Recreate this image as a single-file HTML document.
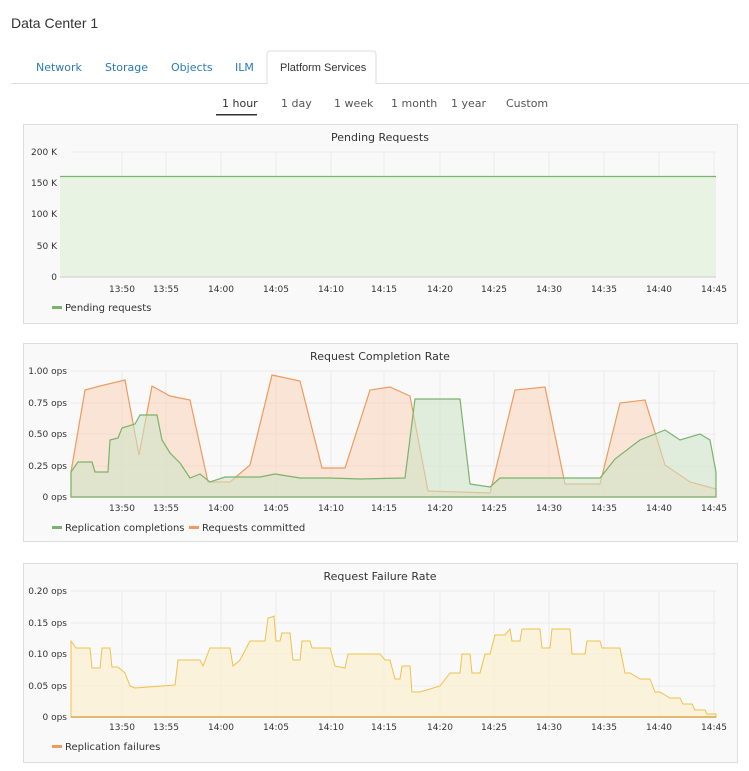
<!DOCTYPE html>
<html><head><style>
body{margin:0;background:#fff;font-family:"Liberation Sans",sans-serif;}
svg text{font-family:"DejaVu Sans","Liberation Sans",sans-serif;}
</style></head><body>
<svg width="749" height="771" xmlns="http://www.w3.org/2000/svg" style="display:block">
<text x="11" y="28" font-size="14" fill="#333" style="font-family:'Liberation Sans',sans-serif">Data Center 1</text>
<g font-size="11" fill="#2a7ab5" style="font-family:'Liberation Sans',sans-serif">
<text x="36" y="71">Network</text><text x="105" y="71">Storage</text><text x="171" y="71">Objects</text><text x="235" y="71">ILM</text></g>
<path d="M11 83.5H749" stroke="#ddd"/>
<path d="M267 84V54a3 3 0 0 1 3-3h103a3 3 0 0 1 3 3v30" fill="#fff" stroke="#ddd"/>
<rect x="268" y="83" width="107" height="2" fill="#fff"/>
<text x="280" y="71" font-size="11" fill="#333" style="font-family:'Liberation Sans',sans-serif">Platform Services</text>
<g font-size="11" fill="#555" style="font-family:'Liberation Sans',sans-serif">
<text x="222" y="107" fill="#333">1 hour</text><text x="281" y="107">1 day</text><text x="334" y="107">1 week</text><text x="391" y="107">1 month</text><text x="451" y="107">1 year</text><text x="506" y="107">Custom</text></g>
<rect x="216" y="114" width="41" height="1.5" fill="#333"/>

<!-- panels -->
<g fill="#f9f9f9" stroke="#ddd"><rect x="23.5" y="124.5" width="714" height="199"/><rect x="23.5" y="343.5" width="714" height="198"/><rect x="23.5" y="563.5" width="714" height="199"/></g>
<g font-size="11" fill="#333" text-anchor="middle"><text x="380" y="141">Pending Requests</text><text x="380" y="360">Request Completion Rate</text><text x="380" y="580">Request Failure Rate</text></g>

<!-- grids -->
<g stroke="#ececec">
<path d="M71 152H716M71 183H716M71 214H716M71 246H716"/>
<path d="M71 371H716M71 403H716M71 434H716M71 466H716"/>
<path d="M71 591H716M71 623H716M71 654H716M71 686H716"/>
<path d="M122 152V277M166 152V277M221 152V277M276 152V277M331 152V277M384 152V277M440 152V277M494 152V277M549 152V277M604 152V277M659 152V277M714 152V277"/>
<path d="M122 371V497M166 371V497M221 371V497M276 371V497M331 371V497M384 371V497M440 371V497M494 371V497M549 371V497M604 371V497M659 371V497M714 371V497"/>
<path d="M122 591V717M166 591V717M221 591V717M276 591V717M331 591V717M384 591V717M440 591V717M494 591V717M549 591V717M604 591V717M659 591V717M714 591V717"/>
</g>
<g font-size="9" fill="#333" text-anchor="end">
<text x="57" y="155">200 K</text><text x="57" y="186">150 K</text><text x="57" y="217">100 K</text><text x="57" y="249">50 K</text><text x="57" y="280">0</text>
<text x="67" y="374">1.00 ops</text><text x="67" y="406">0.75 ops</text><text x="67" y="437">0.50 ops</text><text x="67" y="469">0.25 ops</text><text x="67" y="500">0 ops</text>
<text x="67" y="594">0.20 ops</text><text x="67" y="626">0.15 ops</text><text x="67" y="657">0.10 ops</text><text x="67" y="689">0.05 ops</text><text x="67" y="720">0 ops</text>
</g>
<g font-size="9" fill="#333" text-anchor="middle">
<g id="xl"><text x="122" y="292">13:50</text><text x="166" y="292">13:55</text><text x="221" y="292">14:00</text><text x="276" y="292">14:05</text><text x="331" y="292">14:10</text><text x="384" y="292">14:15</text><text x="440" y="292">14:20</text><text x="494" y="292">14:25</text><text x="549" y="292">14:30</text><text x="604" y="292">14:35</text><text x="659" y="292">14:40</text><text x="714" y="292">14:45</text></g>
<use href="#xl" y="219"/><use href="#xl" y="438"/>
</g>

<!-- chart1 -->
<path d="M60 176.5H716V277H60Z" fill="#e8f3e4"/>
<path d="M60 176.5H716" stroke="#7ab36b" stroke-width="1.2"/>
<path d="M60 277H716" stroke="#ccc"/>
<rect x="52" y="306" width="10" height="3" fill="#7ab36b"/>
<text x="65" y="311" font-size="10" fill="#333">Pending requests</text>

<!-- chart2 -->
<path d="M71 472L85 390L100 386L125 380L139 455L152 386L170 396L190 400L208 482L230 482L250 465L272 375L300 381L322 468L345 468L370 390L390 387L410 396L428 491L490 493L515 390L545 387L565 484L600 484L620 403L645 400L665 465L690 482L716 489V497H71Z" fill="#f9c9aa" fill-opacity="0.45" stroke="#ef9b5f" stroke-width="1.2"/>
<path d="M71 472L78 462L92 462L95 472L108 472L110 440L118 438L122 428L135 424L140 415L157 415L162 440L170 453L180 463L190 478L200 474L210 482L225 477L260 477L275 474L300 478L330 478L360 479L405 478L415 399L460 399L470 484L490 487L500 478L600 478L615 459L640 440L655 434L665 430L680 440L700 434L710 440L716 472V497H71Z" fill="#cde3c4" fill-opacity="0.55" stroke="#7ab36b" stroke-width="1.2"/>
<path d="M71 497H716" stroke="#7ab36b"/>
<rect x="52" y="526" width="10" height="3" fill="#7ab36b"/><text x="65" y="531" font-size="10" fill="#333">Replication completions</text>
<rect x="189" y="526" width="10" height="3" fill="#ef9b5f"/><text x="202" y="531" font-size="10" fill="#333">Requests committed</text>

<!-- chart3 -->
<path d="M71 641L76 648L90 648L92 668L100 668L102 648L110 648L112 667L118 667L125 673L130 686L135 688L175 685L178 660L200 660L203 666L210 648L230 648L233 666L240 660L250 641L265 641L268 618L272 617L274 616L276 641L280 641L282 633L290 633L293 660L300 660L302 641L310 641L312 648L330 648L335 666L345 668L348 654L360 654L362 654L380 654L385 660L390 660L395 679L400 679L402 666L410 666L412 692L420 692L440 686L450 673L460 673L462 654L470 654L472 673L480 673L485 654L490 654L495 635L505 635L510 629L512 641L520 641L522 629L540 629L542 648L550 648L552 629L570 629L572 654L585 654L587 641L600 641L602 648L620 648L625 673L630 673L640 679L650 679L655 692L660 692L670 698L680 698L683 704L692 704L695 710L705 710L707 714L716 714V717H71Z" fill="#faf0d2" fill-opacity="0.8" stroke="#f0c24a" stroke-width="1"/>
<path d="M71 717H716" stroke="#d8a44a" stroke-width="1.5"/>
<rect x="52" y="745" width="10" height="3" fill="#ef9b5f"/><text x="65" y="750" font-size="10" fill="#333">Replication failures</text>
</svg>
</body></html>
